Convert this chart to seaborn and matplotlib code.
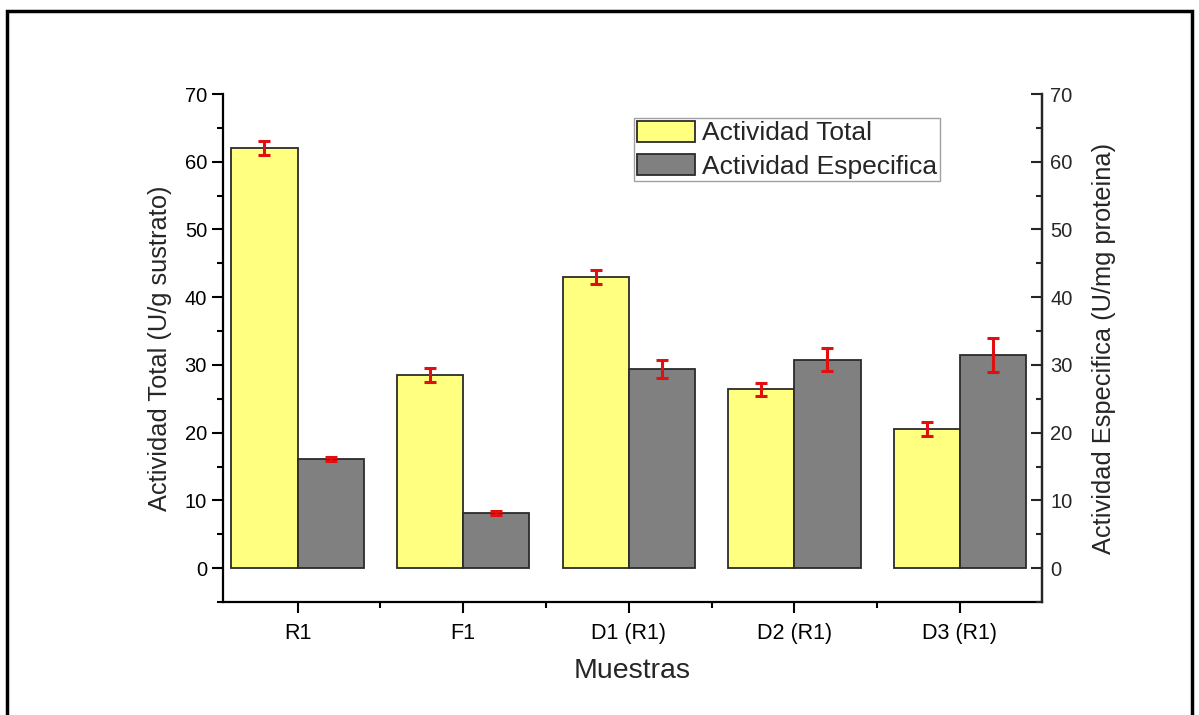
import matplotlib
matplotlib.use("Agg")
import matplotlib.pyplot as plt
from matplotlib.patches import Patch, Rectangle
from matplotlib.ticker import MultipleLocator
import numpy as np
import pandas as pd
import seaborn as sns

# Samples and measured activities
muestras = ["R1", "F1", "D1 (R1)", "D2 (R1)", "D3 (R1)"]
actividad_total = [62.0, 28.5, 43.0, 26.4, 20.5]
error_total = [1.0, 1.05, 1.0, 1.0, 1.05]
actividad_especifica = [16.1, 8.2, 29.4, 30.8, 31.5]
error_especifica = [0.3, 0.3, 1.3, 1.65, 2.5]

series_names = ["Actividad Total", "Actividad Especifica"]
bar_colors = ["#FFFF80", "#808080"]

sns.set_style("white")
plt.rcParams["font.family"] = ["Liberation Sans", "DejaVu Sans"]

df = pd.DataFrame({
    "Muestra": muestras * 2,
    "Serie": [series_names[0]] * len(muestras) + [series_names[1]] * len(muestras),
    "Valor": actividad_total + actividad_especifica,
    "Error": error_total + error_especifica,
})

fig = plt.figure(figsize=(11.99, 7.15), dpi=100)
ax = fig.add_axes([0.186, 0.158, 0.683, 0.7105])

sns.barplot(data=df, x="Muestra", y="Valor", hue="Serie", order=muestras,
            hue_order=series_names, palette=bar_colors, width=0.8,
            edgecolor="#2b2b2b", linewidth=1.3, saturation=1,
            errorbar=None, legend=False, ax=ax)

# error bars centred on each drawn bar
for idx, serie in enumerate(series_names):
    sub = df[df["Serie"] == serie].set_index("Muestra").loc[muestras]
    bars = ax.patches[idx * len(muestras):(idx + 1) * len(muestras)]
    xs = [b.get_x() + b.get_width() / 2 for b in bars]
    ax.errorbar(xs, sub["Valor"].values, yerr=sub["Error"].values, fmt="none",
                ecolor="#e01010", elinewidth=2.2, capsize=4.5, capthick=2.2, zorder=5)

ax.set_xlim(-0.45, 4.495)
ax.set_ylim(-5, 70)
ax.yaxis.set_major_locator(MultipleLocator(10))
ax.yaxis.set_minor_locator(MultipleLocator(5))
ax.set_xticks(range(len(muestras)))
ax.set_xticks(np.arange(0.5, len(muestras) - 1, 1.0), minor=True)
ax.set_xticklabels(muestras, fontsize=15.5)

for s in ["left", "bottom", "right"]:
    ax.spines[s].set_linewidth(1.6)
    ax.spines[s].set_color("black")
ax.spines["top"].set_visible(False)

ax.tick_params(axis="both", which="major", direction="out", length=8, width=1.5,
               labelsize=14.5, colors="black", pad=3.5)
ax.tick_params(axis="both", which="minor", direction="out", length=4, width=1.5,
               colors="black")
ax.tick_params(axis="x", which="major", labelsize=15.5, pad=7)
ax.tick_params(left=True, bottom=True, which="both")

ax.set_xlabel("Muestras", fontsize=20.5, labelpad=10)
ax.set_ylabel("Actividad Total (U/g sustrato)", fontsize=18.3, labelpad=9)

ax2 = ax.twinx()
ax2.set_ylim(-5, 70)
ax2.yaxis.set_major_locator(MultipleLocator(10))
ax2.yaxis.set_minor_locator(MultipleLocator(5))
for s in ["left", "bottom", "top"]:
    ax2.spines[s].set_visible(False)
ax2.spines["right"].set_linewidth(1.6)
ax2.tick_params(axis="y", which="major", direction="in", length=8, width=1.5,
                labelsize=14.5, pad=6, right=True)
ax2.tick_params(axis="y", which="minor", direction="in", length=4, width=1.5, right=True)
ax2.set_ylabel("Actividad Especifica (U/mg proteina)", fontsize=18.3, labelpad=14)

handles = [Patch(facecolor=c, edgecolor="#2b2b2b", linewidth=1.3) for c in bar_colors]
leg = ax.legend(handles, series_names, loc="upper left", bbox_to_anchor=(0.502, 0.953),
                borderaxespad=0, fontsize=19, frameon=True, fancybox=False,
                edgecolor="#8a8a8a", handlelength=2.2, handleheight=0.85,
                handletextpad=0.27, labelspacing=0.33, borderpad=0.1)
leg.get_frame().set_linewidth(1.0)

# outer frame around the figure
fig.patches.append(Rectangle((7 / 1199, -0.05), 1185 / 1199, (715 - 11) / 715 + 0.05,
                             transform=fig.transFigure, fill=False,
                             edgecolor="black", linewidth=2.5, zorder=10))

fig.savefig("out.png", dpi=100)
